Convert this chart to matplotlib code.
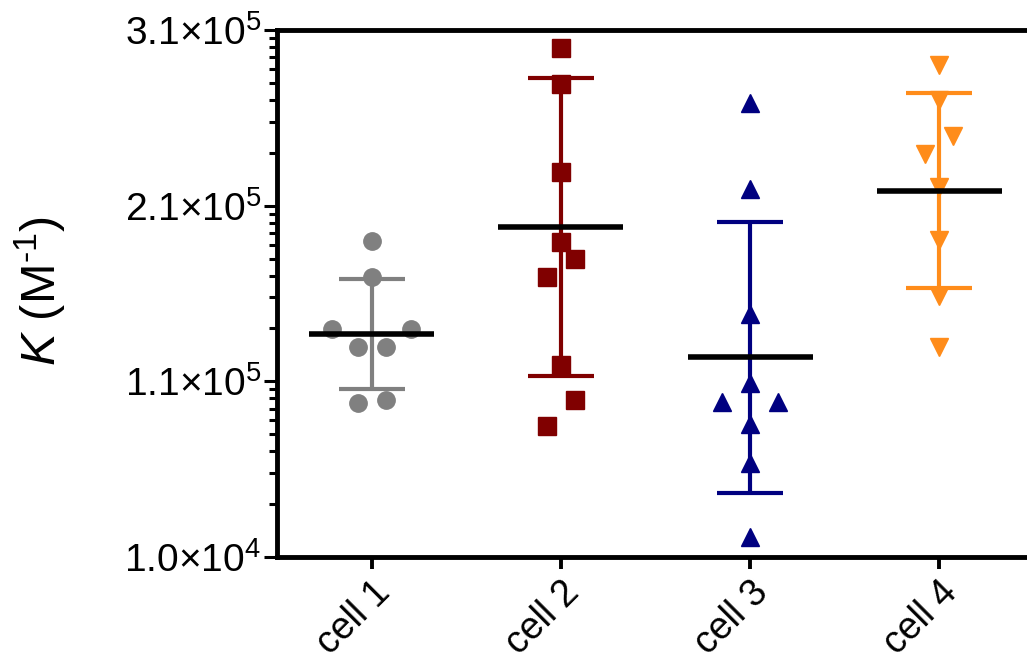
import numpy as np
import matplotlib
matplotlib.use('Agg')
import matplotlib.pyplot as plt
from matplotlib.transforms import ScaledTranslation

plt.rcParams['font.family'] = ['Liberation Sans', 'DejaVu Sans']
plt.rcParams['mathtext.fontset'] = 'custom'
plt.rcParams['mathtext.rm'] = 'Liberation Sans'
plt.rcParams['mathtext.it'] = 'Liberation Sans:italic'

# binding constants per cell (M^-1)
groups = ['cell 1', 'cell 2', 'cell 3', 'cell 4']
cell1 = [189.8e3, 169.4e3, 139.8e3, 139.8e3, 129.5e3, 129.5e3, 97.6e3, 99.4e3]
cell2 = [328.7e3, 299.7e3, 279.2e3, 229.1e3, 189.3e3, 179.6e3, 169.4e3, 119.3e3, 99.4e3, 84.6e3]
cell3 = [268.4e3, 219.4e3, 148.3e3, 109.0e3, 98.2e3, 98.2e3, 85.7e3, 63.5e3, 21.4e3]
cell4 = [290.0e3, 270.1e3, 249.6e3, 239.4e3, 220.6e3, 190.4e3, 158.5e3, 129.5e3]

ytick_vals = [1.0e4, 1.1e5, 2.1e5, 3.1e5]
ytick_text = [r'$1.0{\times}10^{4}$', r'$1.1{\times}10^{5}$',
              r'$2.1{\times}10^{5}$', r'$3.1{\times}10^{5}$']

data = [cell1, cell2, cell3, cell4]
colors = ['#808080', '#800000', '#000080', '#FF8C1A']
markers = ['o', 's', '^', 'v']
# horizontal spread so overlapping points stay visible
spread = [
    [0, 0, -0.21, 0.21, -0.074, 0.074, -0.074, 0.074],
    [0, 0, 0, 0, 0, 0.074, -0.074, 0, 0.074, -0.074],
    [0, 0, 0, 0, -0.148, 0.148, 0, 0, 0],
    [0, 0, 0.074, -0.074, 0, 0, 0, 0],
]

fig = plt.figure(figsize=(10.27, 6.6), dpi=100)
ax = fig.add_axes([0.2697, 0.1561, 0.7371, 0.7985])

for i, vals in enumerate(data):
    x = i + 1
    vals = np.array(vals)
    xs = x + np.array(spread[i])
    ax.plot(xs, vals, ls='none', marker=markers[i], ms=12.5, color=colors[i],
            mec=colors[i], zorder=2)
    m = vals.mean()
    sd = vals.std(ddof=1)
    ax.errorbar(x, m, yerr=sd, fmt='none', ecolor=colors[i], elinewidth=3,
                capsize=24, capthick=3, zorder=3)
    ax.hlines(m, x - 0.33, x + 0.33, color='black', lw=4, zorder=4)

ax.set_xlim(0.5, 4.5)
ax.set_ylim(1e4, 3.1e5)

ax.set_yticks(ytick_vals)
ax.set_yticklabels(ytick_text, fontsize=28)
minor = [b + 1e5 * np.log10(k) for b in ytick_vals[:-1] for k in range(2, 10)]
ax.set_yticks(minor, minor=True)

ax.set_xticks(range(1, len(groups) + 1))
ax.set_xticklabels(groups, fontsize=27, rotation=45, ha='right', va='top',
                   rotation_mode='anchor')
shift = ScaledTranslation(4 / 100, 6 / 100, fig.dpi_scale_trans)
for lab in ax.get_xticklabels():
    lab.set_transform(lab.get_transform() + shift)

ax.set_ylabel(r'$\mathit{K}$ (M$^{\text{-}1}$)', fontsize=35)
ax.yaxis.set_label_coords(-0.276, 0.505)

for s in ['left', 'top', 'bottom']:
    ax.spines[s].set_linewidth(3.5)
ax.spines['right'].set_visible(False)
ax.tick_params(axis='y', which='major', length=9.5, width=2.2, pad=2)
ax.tick_params(axis='y', which='minor', length=5.5, width=2.2)
ax.tick_params(axis='x', which='major', length=8.5, width=2.8, pad=4)

fig.savefig('out.png', dpi=100)
